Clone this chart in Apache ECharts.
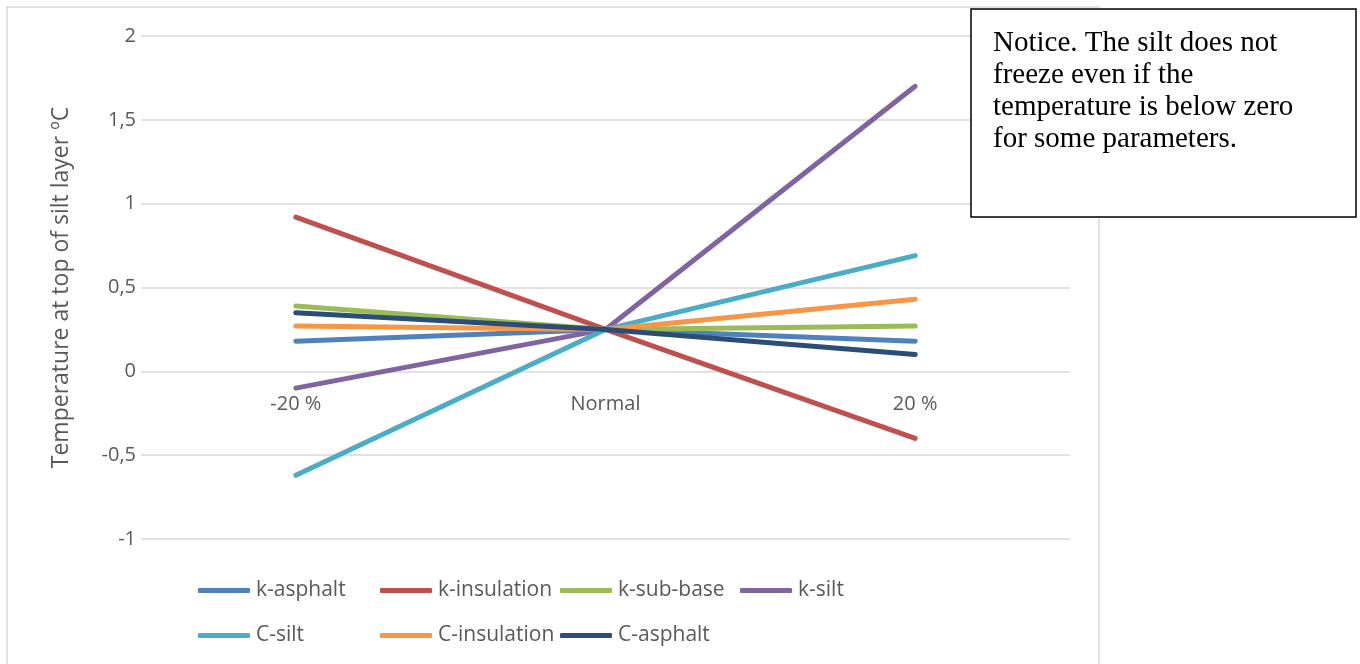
<!DOCTYPE html>
<html>
<head>
<meta charset="utf-8">
<script src="https://cdn.jsdelivr.net/npm/echarts@6/dist/echarts.min.js"></script>
<style>html,body{margin:0;padding:0;background:#fff;}#c{width:1360px;height:664px;}</style>
</head>
<body>
<div id="c"></div>
<script>
const categories = ['-20 %', 'Normal', '20 %'];
const kAsphalt = [0.18, 0.25, 0.18];
const kInsulation = [0.92, 0.25, -0.40];
const kSubBase = [0.39, 0.25, 0.27];
const kSilt = [-0.10, 0.25, 1.70];
const cSilt = [-0.62, 0.25, 0.69];
const cInsulation = [0.27, 0.25, 0.43];
const cAsphalt = [0.35, 0.25, 0.10];
const seriesNames = ['k-asphalt', 'k-insulation', 'k-sub-base', 'k-silt', 'C-silt', 'C-insulation', 'C-asphalt'];
const seriesValues = [kAsphalt, kInsulation, kSubBase, kSilt, cSilt, cInsulation, cAsphalt];
const colors = ['#4F81BD', '#C0504D', '#9BBB59', '#8064A2', '#4BACC6', '#F79646', '#2C4D75'];
const yTitle = 'Temperature at top of silt layer ºC';
const noteLines = ['Notice. The silt does not', 'freeze even if the', 'temperature is below zero', 'for some parameters.'];

const FONT = '"Open Sans", Lato, sans-serif';
const legendPos = [[198, 580], [380, 580], [560, 580], [740, 580], [198, 625], [380, 625], [560, 625]];

const chart = echarts.init(document.getElementById('c'), null, {renderer: 'canvas'});
const option = {
  backgroundColor: '#fff',
  animation: false,
  color: colors,
  grid: {left: 141, right: 290, top: 36, bottom: 125, containLabel: false},
  xAxis: {
    type: 'category',
    data: categories,
    boundaryGap: true,
    offset: -168,
    axisLine: {show: false},
    axisTick: {show: false},
    axisLabel: {color: '#595959', fontSize: 20, fontFamily: FONT, margin: 23},
    splitLine: {show: false}
  },
  yAxis: {
    type: 'value',
    min: -1, max: 2, interval: 0.5,
    name: yTitle,
    nameLocation: 'middle',
    nameGap: 68,
    nameTextStyle: {color: '#595959', fontSize: 23, fontFamily: FONT},
    axisLine: {show: false},
    axisTick: {show: false},
    axisLabel: {color: '#595959', fontSize: 20, fontFamily: FONT, margin: 5,
      formatter: v => String(v).replace('.', ',')},
    splitLine: {lineStyle: {color: '#d9d9d9', width: 1.5}}
  },
  legend: seriesNames.map((n, i) => ({
    data: [n],
    left: legendPos[i][0],
    top: legendPos[i][1],
    icon: 'roundRect',
    itemWidth: 52,
    itemHeight: 5,
    itemGap: 0,
    padding: 0,
    textStyle: {color: '#595959', fontSize: 21, fontFamily: FONT, padding: [0, 0, 0, 1]}
  })),
  series: seriesNames.map((n, i) => ({
    name: n,
    type: 'line',
    data: seriesValues[i],
    symbol: 'none',
    lineStyle: {width: 5, color: colors[i], cap: 'round', join: 'round'},
    itemStyle: {color: colors[i]}
  })),
  graphic: [
    {type: 'rect', z: -10, silent: true,
      shape: {x: 7, y: 7, width: 1092, height: 680},
      style: {fill: 'none', stroke: '#d9d9d9', lineWidth: 1.5}},
    {type: 'rect', z: 100,
      shape: {x: 971, y: 9, width: 385, height: 208},
      style: {fill: '#fff', stroke: '#000', lineWidth: 1.5}},
    {type: 'text', left: 993, top: 27, z: 101,
      style: {text: noteLines.join('\n'), fill: '#000', font: '29px "Liberation Serif", "Times New Roman", serif', lineHeight: 32}}
  ]
};
chart.setOption(option);
</script>
</body>
</html>
